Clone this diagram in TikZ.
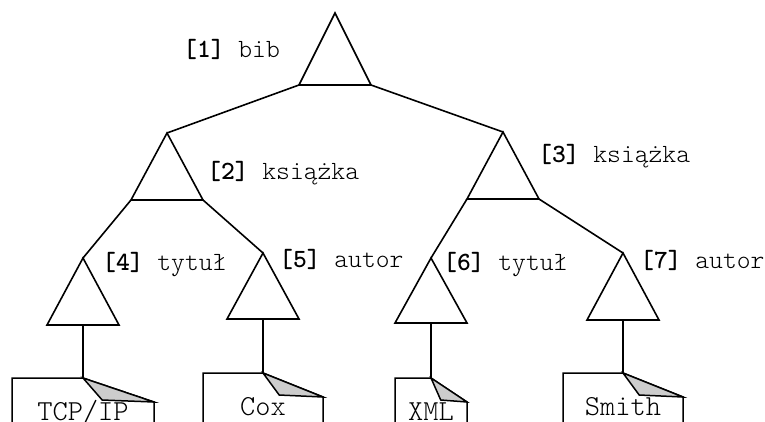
\documentclass[tikz,border=0pt]{standalone}
\usepackage{fontspec}
\setmonofont{lmmonolt10-regular.otf}[BoldFont=lmmonolt10-bold.otf]

% element node: triangle with named apex (-a), base corners (-l, -r) and base centre (-b)
% #1 name, #2 apex x, #3 apex y, #4 base y, #5 half base width
\newcommand{\treetri}[5]{%
  \coordinate (#1-a) at (#2,#3);
  \coordinate (#1-l) at ({#2-#5},#4);
  \coordinate (#1-r) at ({#2+#5},#4);
  \coordinate (#1-b) at (#2,#4);
  \draw[tri] (#1-a) -- (#1-l) -- (#1-r) -- cycle;}

% text leaf: document sheet with a folded corner
% #1 name, #2 left x, #3 middle x, #4 right x, #5 top y, #6 text
\newcommand{\leafdoc}[6]{%
  \coordinate (#1) at (#3,#5);
  \coordinate (#1-c) at (#4,{#5+24});
  \coordinate (#1-f) at ({#3+0.27*(#4-#3)},{#5+22});
  \draw[sheet] (#2,440) -- (#2,#5) -- (#1) -- (#1-c) -- (#4,440);
  \filldraw[sheet,fill=black!20] (#1) -- (#1-f) -- (#1-c) -- cycle;
  \node[leaf] (#1-txt) at (#3,{#5+42}) {#6};}

\begin{document}
\begin{tikzpicture}[x=1pt,y=-1pt,
  tri/.style={line width=1.6pt,line join=miter},
  sheet/.style={line width=1.5pt,line join=miter},
  edge/.style={line width=1.6pt},
  lbl/.style={anchor=base west,inner sep=0pt,
    font=\ttfamily\fontsize{26.3}{26.3}\selectfont},
  leaf/.style={anchor=base,inner sep=0pt,
    font=\ttfamily\fontsize{29}{29}\selectfont}]

\useasboundingbox (0,0) rectangle (765,421);
\clip (0,0) rectangle (765,421);

% element nodes
\treetri{t1}{335}{13}{85}{36}
\treetri{t2}{167}{133}{200}{36}
\treetri{t3}{503}{132}{199}{36}
\treetri{t4}{83}{258}{325}{36}
\treetri{t5}{263}{253}{319}{36}
\treetri{t6}{431}{258}{323}{36}
\treetri{t7}{623}{253}{320}{36}

% parent-child edges
\draw[edge] (t1-l) -- (t2-a);
\draw[edge] (t1-r) -- (t3-a);
\draw[edge] (t2-l) -- (t4-a);
\draw[edge] (t2-r) -- (t5-a);
\draw[edge] (t3-l) -- (t6-a);
\draw[edge] (t3-r) -- (t7-a);

% text leaves
\leafdoc{d4}{12}{83}{154}{378}{TCP/IP}
\leafdoc{d5}{203}{263}{323}{373}{Cox}
\leafdoc{d6}{395}{431}{467}{378}{XML}
\leafdoc{d7}{563}{623}{683}{373}{Smith}

\draw[edge] (t4-b) -- (d4);
\draw[edge] (t5-b) -- (d5);
\draw[edge] (t6-b) -- (d6);
\draw[edge] (t7-b) -- (d7);

% element labels
\node[lbl] (l1) at (183,57)  {\textbf{[1]} bib};
\node[lbl] (l2) at (207,179) {\textbf{[2]} książka};
\node[lbl] (l3) at (538,162) {\textbf{[3]} książka};
\node[lbl] (l4) at (102,270) {\textbf{[4]} tytuł};
\node[lbl] (l5) at (279,267) {\textbf{[5]} autor};
\node[lbl] (l6) at (443,270) {\textbf{[6]} tytuł};
\node[lbl] (l7) at (640,268) {\textbf{[7]} autor};

\end{tikzpicture}
\end{document}
